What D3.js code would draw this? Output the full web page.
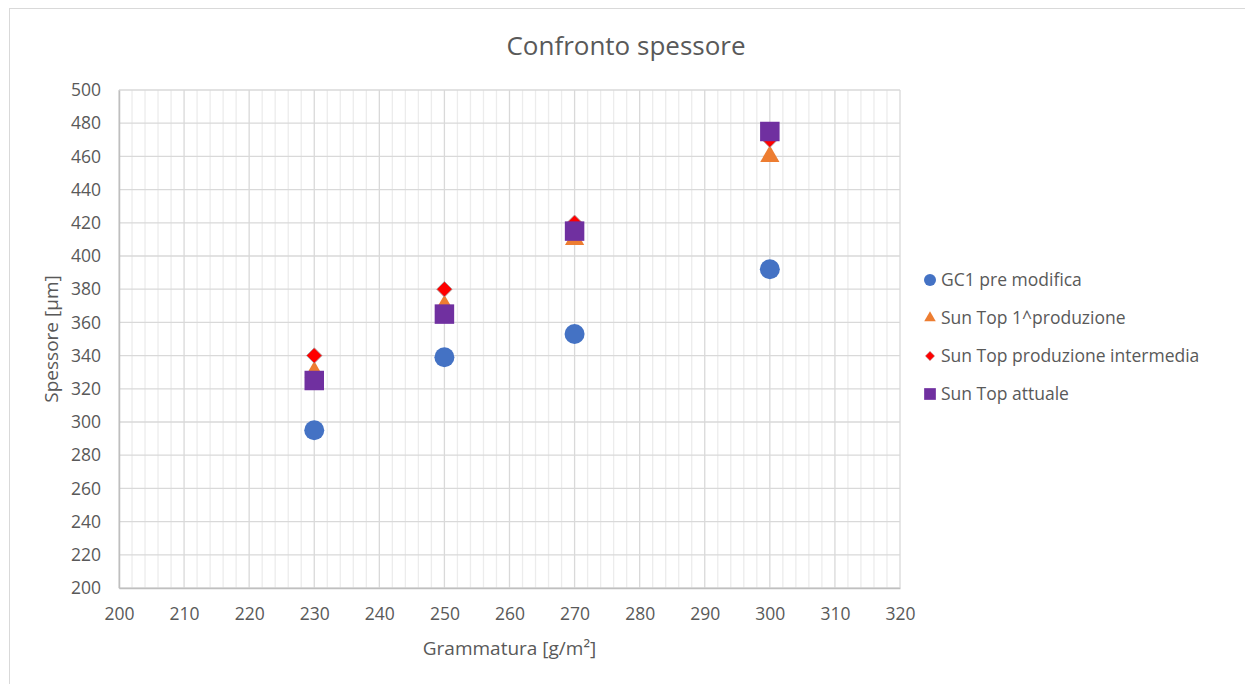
<!DOCTYPE html>
<html lang="it">
<head>
    <meta charset="UTF-8">
    <title>Confronto spessore</title>
    <script src="https://cdnjs.cloudflare.com/ajax/libs/d3/7.8.5/d3.min.js"></script>
    <style>
        body { margin: 0; background: #fff; }
        text { font-family: "Open Sans", sans-serif; fill: #595959; }
    </style>
</head>
<body>
    <svg width="1245" height="684"></svg>
    <script>
        "use strict";

        // data
        const grammature = [230, 250, 270, 300];
        const gc1 = [295, 339, 353, 392];
        const sunTop1 = [330, 370, 410, 460];
        const sunTopInterm = [340, 380, 420, 470];
        const sunTopAttuale = [325, 365, 415, 475];

        const xTicks = [200, 210, 220, 230, 240, 250, 260, 270, 280, 290, 300, 310, 320];
        const yTicks = [200, 220, 240, 260, 280, 300, 320, 340, 360, 380, 400, 420, 440, 460, 480, 500];

        const series = [
            { name: "GC1 pre modifica", values: gc1, color: "#4472C4", shape: "circle" },
            { name: "Sun Top 1^produzione", values: sunTop1, color: "#ED7D31", shape: "triangle" },
            { name: "Sun Top produzione intermedia", values: sunTopInterm, color: "#FF0000", shape: "diamond" },
            { name: "Sun Top attuale", values: sunTopAttuale, color: "#7030A0", shape: "square" },
        ];

        const svg = d3.select("svg");
        const plot = { left: 119, right: 900, top: 90, bottom: 588 };

        const x = d3.scaleLinear().domain([200, 320]).range([plot.left, plot.right]);
        const y = d3.scaleLinear().domain([200, 500]).range([plot.bottom, plot.top]);

        // chart frame
        svg.append("rect")
            .attr("x", 9.5).attr("y", 8.5)
            .attr("width", 1240).attr("height", 680)
            .attr("fill", "none").attr("stroke", "#d9d9d9");

        // minor vertical gridlines
        svg.append("g").selectAll("line")
            .data(d3.range(200, 321, 2).filter(v => v % 10 != 0))
            .enter().append("line")
            .attr("x1", d => x(d)).attr("x2", d => x(d))
            .attr("y1", plot.top).attr("y2", plot.bottom)
            .attr("stroke", "#ececec").attr("stroke-width", 1.3);

        // major gridlines
        svg.append("g").selectAll("line")
            .data(xTicks)
            .enter().append("line")
            .attr("x1", d => x(d)).attr("x2", d => x(d))
            .attr("y1", plot.top).attr("y2", plot.bottom)
            .attr("stroke", "#d9d9d9").attr("stroke-width", 1.3);

        svg.append("g").selectAll("line")
            .data(yTicks)
            .enter().append("line")
            .attr("x1", plot.left).attr("x2", plot.right)
            .attr("y1", d => y(d)).attr("y2", d => y(d))
            .attr("stroke", "#d9d9d9").attr("stroke-width", 1.3);

        // axes
        const xAxis = svg.append("g")
            .attr("transform", `translate(0,${plot.bottom})`)
            .call(d3.axisBottom(x).tickValues(xTicks).tickSize(0).tickPadding(20));
        const yAxis = svg.append("g")
            .attr("transform", `translate(${plot.left},0)`)
            .call(d3.axisLeft(y).tickValues(yTicks).tickSize(0).tickPadding(18));

        [xAxis, yAxis].forEach(a => {
            a.select(".domain").attr("stroke", "#bfbfbf").attr("stroke-width", 1.5);
            a.selectAll("text").style("font-size", "17.5px").attr("fill", "#595959");
        });

        // titles
        svg.append("text")
            .attr("x", 626).attr("y", 55)
            .attr("text-anchor", "middle")
            .style("font-size", "26px")
            .text("Confronto spessore");

        svg.append("text")
            .attr("x", (plot.left + plot.right) / 2).attr("y", 655)
            .attr("text-anchor", "middle")
            .style("font-size", "19px")
            .html("Grammatura [g/m²]");

        svg.append("text")
            .attr("transform", `translate(58,${(plot.top + plot.bottom) / 2}) rotate(-90)`)
            .attr("text-anchor", "middle")
            .style("font-size", "19px")
            .text("Spessore [µm]");

        const symbols = {
            circle: d3.symbol(d3.symbolCircle, 314),
            triangle: d3.symbol(d3.symbolTriangle, 160),
            diamond: d3.symbol(d3.symbolSquare, 120),
            square: d3.symbol(d3.symbolSquare, 380),
        };

        function drawMarker(g, shape, color, scale) {
            const p = g.append("path")
                .attr("d", symbols[shape]())
                .attr("fill", color);
            if (shape == "diamond") {
                p.attr("transform", `scale(${scale}) rotate(45)`).attr("stroke", "#a0a0a0").attr("stroke-width", 0.8);
            } else {
                p.attr("transform", `scale(${scale})`);
            }
        }

        // points
        series.forEach(s => {
            s.values.forEach((v, i) => {
                const g = svg.append("g")
                    .attr("transform", `translate(${x(grammature[i])},${y(v)})`);
                drawMarker(g, s.shape, s.color, 1);
            });
        });

        // legend
        const legend = svg.append("g").attr("transform", "translate(930,280)");
        series.forEach((s, i) => {
            const row = legend.append("g").attr("transform", `translate(0,${i * 38})`);
            drawMarker(row, s.shape, s.color, 0.6);
            row.append("text")
                .attr("x", 11).attr("y", 0)
                .attr("dy", "0.35em")
                .style("font-size", "17.5px")
                .text(s.name);
        });
    </script>
</body>
</html>
